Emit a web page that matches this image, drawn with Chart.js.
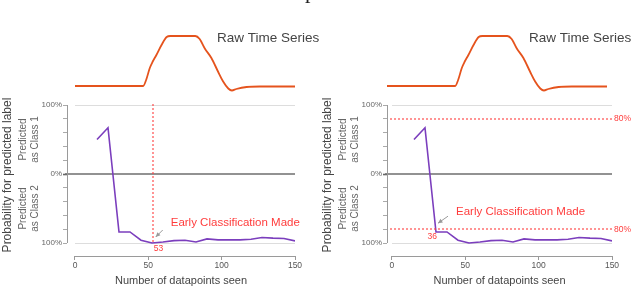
<!DOCTYPE html>
<html>
<head>
<meta charset="utf-8">
<script src="https://cdn.jsdelivr.net/npm/chart.js@4"></script>
<style>
  html, body { margin: 0; padding: 0; background: #fff; }
  #wrap { position: relative; width: 640px; height: 291px; overflow: hidden; }
  canvas { position: absolute; top: 0; }
  #leftChart { left: 0; }
  #rightChart { left: 320px; }
  #cut { position: absolute; left: 305px; top: -20px; font: 22px 'Liberation Serif', serif; color: #222; line-height: 22px; }
</style>
</head>
<body>
<div id="wrap">
  <canvas id="leftChart" width="320" height="291"></canvas>
  <canvas id="rightChart" width="320" height="291"></canvas>
  <div id="cut">p</div>
</div>
<script>
// classifier output: + = class 1, - = class 2 (percent)
const seen = [15, 22.5, 30, 37.5, 45, 52.5, 60, 67.5, 75, 82.5, 90, 97.5, 105, 112.5, 120, 127.5, 135, 142.5, 150];
const prob = [50, 67, -84, -84, -96, -100, -98.5, -96.5, -96, -98.5, -94, -95.5, -95.5, -95.5, -94.5, -92, -93, -93.5, -97];

// raw time series (normalised) drawn above the plot
const rawX = [0, 20, 40, 46.5, 48.5, 51, 53, 55.5, 59, 62.5, 65, 75, 82, 85, 88.5, 93, 97.5, 101, 104.5, 107, 110, 117, 126, 140, 150];
const rawY = [0, 0, 0, 0, 0.12, 0.36, 0.49, 0.62, 0.82, 0.98, 1, 1, 1, 0.94, 0.75, 0.56, 0.29, 0.09, -0.05, -0.09, -0.06, -0.02, -0.01, -0.01, -0.01];

const xTicks = [0, 50, 100, 150];
const yTicks = [100, 80, 60, 40, 20, 0, -20, -40, -60, -80, -100];

const earlyLeft = 53;     // left panel: stop point
const earlyRight = 36;    // right panel: stop point label
const threshold = 80;     // right panel confidence threshold

const FONT = "'Liberation Sans', Arial, sans-serif";
const RED = '#ff3c3c';
const DASH = 'rgba(255, 60, 60, 0.55)';

function line(ctx, x1, y1, x2, y2, color) {
  ctx.save();
  ctx.strokeStyle = color;
  ctx.beginPath(); ctx.moveTo(x1, y1); ctx.lineTo(x2, y2); ctx.stroke();
  ctx.restore();
}

// dotted red guide line; 2px blocks on even pixels so the red survives compression
function dashes(ctx, x1, y1, x2, y2) {
  const even = v => 2 * Math.floor(v / 2);
  ctx.save();
  ctx.fillStyle = DASH;
  if (y1 === y2) {
    const py = even(y1);
    for (let px = even(x1); px < x2 - 1; px += 4) ctx.fillRect(px, py, 2, 2);
  } else {
    const px = even(x1);
    for (let py = even(y1); py < y2 - 1; py += 4) ctx.fillRect(px, py, 2, 2);
  }
  ctx.restore();
}

function arrow(ctx, fx, fy, tx, ty) {
  ctx.save();
  ctx.fillStyle = '#9a9a9a'; ctx.lineWidth = 1;
  line(ctx, fx, fy, tx, ty, '#9a9a9a');
  const ang = Math.atan2(ty - fy, tx - fx);
  ctx.beginPath();
  ctx.moveTo(tx, ty);
  ctx.lineTo(tx - 5 * Math.cos(ang - 0.45), ty - 5 * Math.sin(ang - 0.45));
  ctx.lineTo(tx - 5 * Math.cos(ang + 0.45), ty - 5 * Math.sin(ang + 0.45));
  ctx.closePath(); ctx.fill();
  ctx.restore();
}

const panelDeco = {
  id: 'panelDeco',
  beforeDatasetsDraw(chart) {
    const {ctx, chartArea: a, scales: {x, y}} = chart;
    const x0 = x.getPixelForValue(0), x1 = x.getPixelForValue(150);
    ctx.save();
    ctx.lineWidth = 1;
    [100, -100].forEach(v => {
      const py = Math.round(y.getPixelForValue(v)) + 0.5;
      line(ctx, x0, py, x1, py, '#dddddd');
    });
    ctx.lineWidth = 1.6;
    const pz = y.getPixelForValue(0);
    line(ctx, a.left - 2, pz, x1, pz, '#6e6e6e');
    // offset spines
    ctx.lineWidth = 1;
    line(ctx, a.left + 0.5, y.getPixelForValue(100), a.left + 0.5, y.getPixelForValue(-100), '#9a9a9a');
    line(ctx, x0, a.bottom + 0.5, x1, a.bottom + 0.5, '#9a9a9a');
    ctx.restore();
  },
  afterDatasetsDraw(chart, args, opts) {
    const {ctx, scales: {x, y}} = chart;
    ctx.save();
    ctx.lineWidth = 1;
    ctx.fillStyle = RED;
    let tip;
    if (opts.mode === 'left') {
      const px = x.getPixelForValue(earlyLeft);
      dashes(ctx, px, y.getPixelForValue(100), px, y.getPixelForValue(-100));
      ctx.fillStyle = RED;
      ctx.font = '8.5px ' + FONT; ctx.textAlign = 'left'; ctx.textBaseline = 'middle';
      ctx.fillText(String(earlyLeft), px + 1, y.getPixelForValue(-100) + 6);
      tip = {x: px + 3, y: y.getPixelForValue(-100) - 6};
      arrow(ctx, tip.x + 7, tip.y - 7, tip.x, tip.y);
      ctx.fillStyle = RED;
      ctx.font = '11.5px ' + FONT;
      ctx.fillText('Early Classification Made', px + 18, y.getPixelForValue(-100) - 20);
    } else {
      const x0 = x.getPixelForValue(0), x1 = x.getPixelForValue(150);
      [threshold, -threshold].forEach(v => {
        const py = y.getPixelForValue(v);
        dashes(ctx, x0, py, x1, py);
      });
      ctx.fillStyle = RED;
      ctx.font = '8.5px ' + FONT; ctx.textBaseline = 'middle'; ctx.textAlign = 'left';
      [threshold, -threshold].forEach(v => ctx.fillText(threshold + '%', x1 + 2, y.getPixelForValue(v)));
      const hit = seen[prob.findIndex(p => p <= -threshold)];
      const px = x.getPixelForValue(hit), py = y.getPixelForValue(-threshold);
      ctx.textAlign = 'right';
      ctx.fillText(String(earlyRight), px + 1, py + 7.5);
      tip = {x: px + 2, y: py - 6};
      arrow(ctx, tip.x + 10, tip.y - 7, tip.x, tip.y);
      ctx.fillStyle = RED; ctx.textAlign = 'left';
      ctx.font = '11.5px ' + FONT;
      ctx.fillText('Early Classification Made', px + 20, py - 17);
    }
    ctx.restore();
  },
  afterDraw(chart, args, opts) {
    const {ctx, scales: {y}} = chart;
    ctx.save();
    ctx.textAlign = 'left'; ctx.textBaseline = 'middle';
    ctx.fillStyle = '#444';
    ctx.font = '13.5px ' + FONT;
    ctx.fillText('Raw Time Series', opts.rawLabelX, 38);
    // y axis titles
    const rot = (text, cx, cy, font, color) => {
      ctx.save();
      ctx.translate(cx, cy); ctx.rotate(-Math.PI / 2);
      ctx.textAlign = 'center'; ctx.font = font; ctx.fillStyle = color;
      ctx.fillText(text, 0, 0);
      ctx.restore();
    };
    const top = y.getPixelForValue(100), mid = y.getPixelForValue(0), bot = y.getPixelForValue(-100);
    rot('Probability for predicted label', 7.5, 175, '12px ' + FONT, '#444');
    rot('Predicted', 23.5, (top + mid) / 2, '10px ' + FONT, '#666');
    rot('as Class 1', 35, (top + mid) / 2, '10px ' + FONT, '#666');
    rot('Predicted', 23.5, (mid + bot) / 2, '10px ' + FONT, '#666');
    rot('as Class 2', 35, (mid + bot) / 2, '10px ' + FONT, '#666');
    ctx.restore();
  }
};

function makePanel(id, mode, xMin, rawShift, padRight, rawLabelX) {
  return new Chart(document.getElementById(id), {
    type: 'line',
    data: {
      datasets: [
        {
          data: rawX.map((v, i) => ({x: v, y: rawY[i]})),
          xAxisID: 'xr', yAxisID: 'yr',
          borderColor: '#e5531d', borderWidth: 1.8,
          pointRadius: 0, cubicInterpolationMode: 'monotone', clip: false
        },
        {
          data: seen.map((v, i) => ({x: v, y: prob[i]})),
          xAxisID: 'x', yAxisID: 'y',
          borderColor: '#7b3ebd', borderWidth: 1.6,
          pointRadius: 0, tension: 0
        }
      ]
    },
    options: {
      responsive: false,
      animation: false,
      layout: { padding: { top: 105, left: 0, right: padRight, bottom: 0 } },
      plugins: {
        legend: { display: false },
        tooltip: { enabled: false },
        panelDeco: { mode, rawLabelX }
      },
      scales: {
        x: {
          type: 'linear', min: xMin, max: 150,
          afterBuildTicks: s => { s.ticks = xTicks.map(v => ({value: v})); },
          afterFit: s => { s.height = 35; },
          border: { display: false },
          grid: { drawOnChartArea: false, tickLength: 4, color: '#999' },
          ticks: { padding: 1, color: '#555', font: { size: 8.5, family: FONT }, maxRotation: 0 },
          title: { display: true, text: 'Number of datapoints seen', color: '#444',
                   font: { size: 11, family: FONT }, padding: { top: 0, bottom: 3 } }
        },
        y: {
          min: -118.84, max: 100,
          afterBuildTicks: s => { s.ticks = yTicks.map(v => ({value: v})); },
          afterFit: s => { s.width = 67; },
          border: { display: false },
          grid: {
            drawOnChartArea: false, tickLength: 4,
            tickColor: c => (c.tick && c.tick.value === 0) ? '#666' : '#aaa',
            tickWidth: c => (c.tick && c.tick.value === 0) ? 1.6 : 1
          },
          ticks: {
            autoSkip: false, padding: 1, color: '#666',
            font: { size: 8, family: FONT },
            callback: v => (v % 100 === 0 ? Math.abs(v) + '%' : '')
          }
        },
        xr: { type: 'linear', display: false, min: xMin + rawShift, max: 150 + rawShift },
        yr: { type: 'linear', display: false, min: -3.40, max: -0.38 }
      }
    },
    plugins: [panelDeco]
  });
}

makePanel('leftChart', 'left', -5.45, 0, 25, 217);
makePanel('rightChart', 'right', -3.4, 3.4, 28, 209);
</script>
</body>
</html>
